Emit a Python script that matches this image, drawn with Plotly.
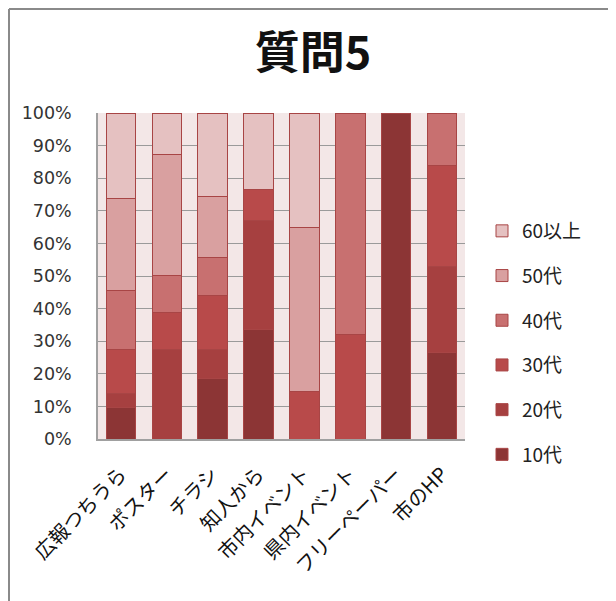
import plotly.graph_objects as go

categories = ["広報つちうら", "ポスター", "チラシ", "知人から", "市内イベント", "県内イベント", "フリーペーパー", "市のHP"]
series_names = ["10代", "20代", "30代", "40代", "50代", "60以上"]
v10 = [0.098, 0.0, 0.187, 0.335, 0.0, 0.0, 1.0, 0.266]
v20 = [0.043, 0.276, 0.089, 0.334, 0.0, 0.0, 0.0, 0.262]
v30 = [0.135, 0.113, 0.163, 0.096, 0.146, 0.321, 0.0, 0.311]
v40 = [0.179, 0.112, 0.118, 0.0, 0.0, 0.679, 0.0, 0.161]
v50 = [0.283, 0.372, 0.186, 0.0, 0.502, 0.0, 0.0, 0.0]
v60 = [0.262, 0.127, 0.257, 0.235, 0.352, 0.0, 0.0, 0.0]
series_values = [v10, v20, v30, v40, v50, v60]
colors = ["#8C3535", "#A64040", "#B84A4A", "#C87070", "#D9A0A0", "#E5C1C1"]
tick_vals = [i / 10 for i in range(11)]
tick_text = [f"{i*10}%" for i in range(11)]

FONT = "Noto Sans CJK JP, DejaVu Sans, sans-serif"

fig = go.Figure()
n = len(series_names)
for i, (name, vals, col) in enumerate(zip(series_names, series_values, colors)):
    fig.add_trace(go.Bar(
        x=categories, y=vals, name=name, legendgroup=name, legendrank=1000 + (n - i),
        marker=dict(color=col, line=dict(color="#A84545", width=1)),
    ))

OFF = 8  # page offset
W, H = 608, 593
L, T = 98 - OFF, 113 - OFF
pw = 465 - 98
ph = 439 - 113
R = W - L - pw
B = H - T - ph

def px_x(sx):
    return (sx - OFF - L) / pw

def px_y(sy):
    return 1 - (sy - OFF - T) / ph

fig.update_layout(
    width=W, height=H,
    margin=dict(l=L, r=R, t=T, b=B, pad=0),
    barmode="stack", bargap=0.355,
    paper_bgcolor="white", plot_bgcolor="#F3E7E7",
    title=dict(text="<b>質問5</b>", x=px_x(313), xref="paper", xanchor="center",
               y=1 - (53 - OFF) / H, yanchor="middle",
               font=dict(family=FONT, size=45, color="#111111")),
    font=dict(family=FONT, color="#333333"),
    showlegend=True,
    legend=dict(x=px_x(482), y=px_y(212), xanchor="left", yanchor="top",
                traceorder="grouped", tracegroupgap=17,
                font=dict(family=FONT, size=19, color="#222222"),
                itemwidth=30, bgcolor="rgba(0,0,0,0)"),
    xaxis=dict(tickangle=-45, tickfont=dict(family=FONT, size=20, color="#111111"),
               showline=True, linecolor="#A0A0A0", linewidth=1.5, ticks="", showgrid=False,
               ticklabelstandoff=14),
    yaxis=dict(range=[0, 1], tickvals=tick_vals, ticktext=tick_text,
               tickfont=dict(family="DejaVu Sans, sans-serif", size=17.5, color="#333333"),
               showgrid=True, gridcolor="#9A9A9A", gridwidth=1.2,
               showline=True, linecolor="#A0A0A0", linewidth=1.5, ticks="", ticklabelstandoff=21,
               zeroline=False),
    shapes=[
        dict(type="line", xref="paper", yref="paper",
             x0=px_x(9), x1=px_x(9), y0=px_y(9), y1=px_y(700),
             line=dict(color="#8A8A8A", width=2)),
        dict(type="line", xref="paper", yref="paper",
             x0=px_x(9), x1=px_x(700), y0=px_y(9), y1=px_y(9),
             line=dict(color="#8A8A8A", width=2)),
    ],
)

fig.write_html("out.html")
